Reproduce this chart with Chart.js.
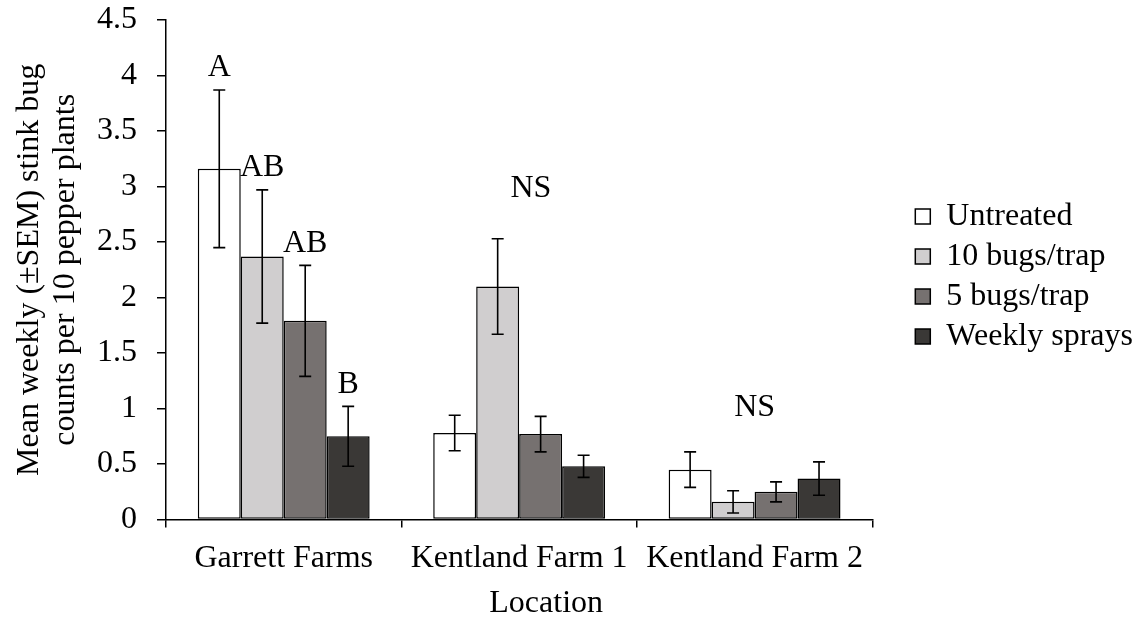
<!DOCTYPE html>
<html>
<head>
<meta charset="utf-8">
<script src="https://cdn.jsdelivr.net/npm/chart.js@4.4.1/dist/chart.umd.min.js"></script>
<style>
  body { margin: 0; background: #fff; }
  #wrap { width: 1143px; height: 622px; position: relative; }
</style>
</head>
<body>
<div id="wrap"><canvas id="bugChart"></canvas></div>
<script>
        // Locations and treatments
        const locations = ['Garrett Farms', 'Kentland Farm 1', 'Kentland Farm 2'];
        const treatments = ['Untreated', '10 bugs/trap', '5 bugs/trap', 'Weekly sprays'];

        // Mean weekly counts per treatment (one value per location)
        const untreated = [3.16, 0.78, 0.45];
        const bugs10 = [2.37, 2.10, 0.16];
        const bugs5 = [1.79, 0.77, 0.25];
        const weekly = [0.75, 0.48, 0.37];

        // SEM per treatment
        const semUntreated = [0.71, 0.16, 0.16];
        const sem10 = [0.60, 0.43, 0.10];
        const sem5 = [0.50, 0.16, 0.09];
        const semWeekly = [0.27, 0.10, 0.15];

        // Significance letters (per location, per treatment) and NS labels
        const sigLetters = [['A', 'AB', 'AB', 'B'], [], []];
        const nsLabels = ['', 'NS', 'NS'];
        const nsValues = [null, 2.98, 1.01];
        const nsPositions = [null, 1.05, 2.0];

        const yTicks = { min: 0, max: 4.5, step: 0.5 };

        const values = [untreated, bugs10, bugs5, weekly];
        const sems = [semUntreated, sem10, sem5, semWeekly];
        const fills = ['#ffffff', '#d0cecf', '#767170', '#3a3836'];

        Chart.defaults.font.family = "'Liberation Serif', 'Times New Roman', serif";
        Chart.defaults.font.size = 32;
        Chart.defaults.color = '#000';

        // Error bars, letters and axis title drawn from the data through the scales
        const annotate = {
            id: 'annotate',
            afterDatasetsDraw(chart) {
                const ctx = chart.ctx;
                const yScale = chart.scales.y;
                const xScale = chart.scales.x;
                ctx.save();
                ctx.strokeStyle = '#000';
                ctx.lineWidth = 1.6;
                ctx.fillStyle = '#000';
                ctx.font = "32px 'Liberation Serif'";
                ctx.textAlign = 'center';
                ctx.textBaseline = 'middle';
                chart.data.datasets.forEach(function(ds, i) {
                    const meta = chart.getDatasetMeta(i);
                    meta.data.forEach(function(bar, j) {
                        const v = values[i][j];
                        const e = sems[i][j];
                        const top = yScale.getPixelForValue(v + e);
                        const bot = yScale.getPixelForValue(v - e);
                        ctx.beginPath();
                        ctx.moveTo(bar.x, top);
                        ctx.lineTo(bar.x, bot);
                        ctx.moveTo(bar.x - 6, top);
                        ctx.lineTo(bar.x + 6, top);
                        ctx.moveTo(bar.x - 6, bot);
                        ctx.lineTo(bar.x + 6, bot);
                        ctx.stroke();
                        const letter = sigLetters[j][i];
                        if (letter) {
                            ctx.fillText(letter, bar.x, top - 22);
                        }
                    });
                });
                nsLabels.forEach(function(label, j) {
                    if (!label) return;
                    ctx.fillText(label, xScale.getPixelForValue(nsPositions[j]), yScale.getPixelForValue(nsValues[j]));
                });
                // x axis title
                const area = chart.chartArea;
                ctx.fillText('Location', (area.left + area.right) / 2 + 27, chart.height - 18);
                ctx.restore();
            }
        };

        const ctx = document.getElementById('bugChart').getContext('2d');
        new Chart(ctx, {
            type: 'bar',
            data: {
                labels: locations,
                datasets: treatments.map(function(name, i) {
                    return {
                        label: name,
                        data: values[i],
                        backgroundColor: fills[i],
                        borderColor: '#000',
                        borderWidth: 1.5,
                        borderSkipped: false,
                        categoryPercentage: 0.73,
                        barPercentage: 1.0
                    };
                })
            },
            options: {
                responsive: true,
                maintainAspectRatio: false,
                animation: false,
                layout: {
                    padding: { left: 12, top: 20, right: 0, bottom: 32 }
                },
                plugins: {
                    tooltip: { enabled: false },
                    legend: {
                        position: 'right',
                        fullSize: false,
                        maxWidth: 300,
                        title: {
                            display: true,
                            text: '',
                            font: { size: 1 },
                            padding: { top: 6, bottom: 6 }
                        },
                        labels: {
                            boxWidth: 15,
                            boxHeight: 15,
                            padding: 8,
                            color: '#000',
                            font: { size: 32 }
                        }
                    }
                },
                scales: {
                    x: {
                        grid: {
                            display: true,
                            offset: true,
                            drawOnChartArea: false,
                            drawTicks: true,
                            tickLength: 8,
                            color: '#000',
                            lineWidth: 1.5
                        },
                        border: { display: true, color: '#000', width: 1.5 },
                        ticks: { padding: 12, color: '#000', maxRotation: 0 }
                    },
                    y: {
                        min: yTicks.min,
                        max: yTicks.max,
                        afterFit: function(scale) {
                            scale.width = 154;
                            scale.paddingTop = 0;
                            scale.paddingBottom = 0;
                        },
                        ticks: {
                            stepSize: yTicks.step,
                            padding: 20,
                            color: '#000',
                            callback: function(value) {
                                return String(Math.round(value * 10) / 10);
                            }
                        },
                        grid: {
                            display: true,
                            drawOnChartArea: false,
                            tickLength: 9,
                            color: '#000',
                            lineWidth: 1.5
                        },
                        border: { display: true, color: '#000', width: 1.5 },
                        title: {
                            display: true,
                            text: ['Mean weekly (\u00B1SEM) stink bug', 'counts per 10 pepper plants'],
                            color: '#000',
                            font: { size: 32, lineHeight: 1.12 },
                            padding: { top: 0, bottom: 0 }
                        }
                    },
                    gap: {
                        type: 'linear',
                        position: 'right',
                        display: true,
                        grid: { display: false },
                        border: { display: false },
                        ticks: { display: false },
                        afterFit: function(scale) { scale.width = 35; }
                    }
                }
            },
            plugins: [annotate]
        });
</script>
</body>
</html>
